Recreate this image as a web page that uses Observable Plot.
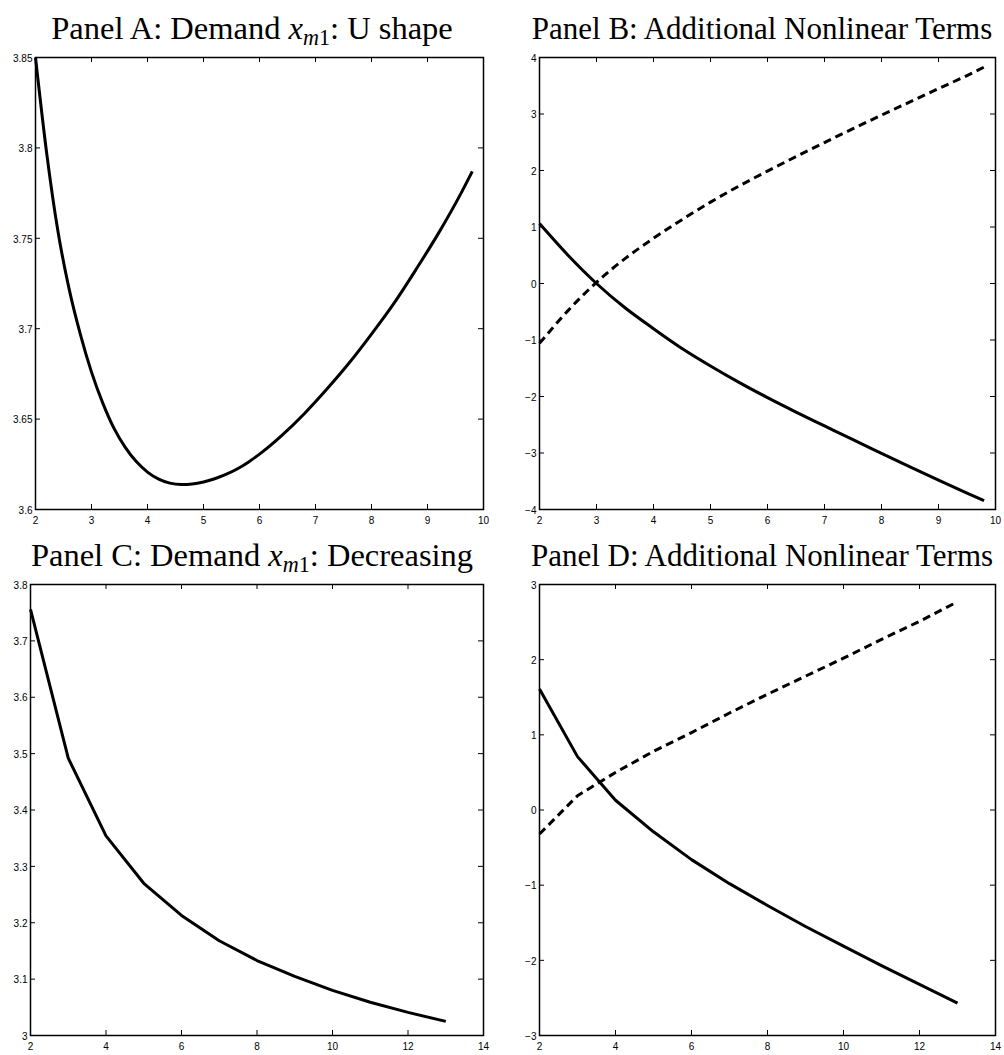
<!DOCTYPE html>
<html>
<head>
<meta charset="utf-8">
<script src="https://cdn.jsdelivr.net/npm/d3@7"></script>
<script src="https://cdn.jsdelivr.net/npm/@observablehq/plot@0.6"></script>
<style>
  html, body { margin: 0; padding: 0; background: #fff; }
  #wrap { position: relative; width: 1004px; height: 1055px; overflow: hidden; }
  .panel { position: absolute; }
  .title { position: absolute; transform: translateX(-50%); white-space: nowrap;
           font-family: "Liberation Serif", "DejaVu Serif", serif; font-size: 32.5px; color: #000; line-height: 1; }
  .title.right { font-size: 31px; }
  .title i { font-style: italic; }
  .title .sub { font-size: 68%; position: relative; top: 0.28em; }
</style>
</head>
<body>
<div id="wrap"></div>
<script>
// ---------- Data ----------
// Panel A: Demand x_m1 (U shape)
const xA = [2.0, 2.2, 2.4, 2.6, 2.8, 3.0, 3.2, 3.4, 3.6, 3.8, 4.0, 4.2, 4.4, 4.6, 4.8, 5.0, 5.2, 5.4, 5.6, 5.8, 6.0, 6.4, 6.8, 7.2, 7.6, 8.0, 8.4, 8.8, 9.2, 9.6, 9.8];
const yA = [3.850, 3.797, 3.754, 3.722, 3.697, 3.676, 3.659, 3.645, 3.6345, 3.6265, 3.6207, 3.6168, 3.6146, 3.6138, 3.6141, 3.6152, 3.6170, 3.6194, 3.6224, 3.6262, 3.6306, 3.641, 3.653, 3.6665, 3.681, 3.697, 3.714, 3.733, 3.753, 3.775, 3.787];

// Panel B: Additional nonlinear terms (solid and dashed)
const xB = [2.0, 2.5, 3.0, 3.5, 4.0, 4.5, 5.0, 5.5, 6.0, 6.5, 7.0, 7.5, 8.0, 8.5, 9.0, 9.5, 9.8];
const yBsolid  = [1.06, 0.50, 0.00, -0.43, -0.80, -1.15, -1.46, -1.75, -2.02, -2.275, -2.52, -2.765, -3.005, -3.245, -3.48, -3.71, -3.845];
const yBdashed = [-1.06, -0.48, 0.02, 0.44, 0.80, 1.13, 1.44, 1.725, 1.99, 2.245, 2.495, 2.74, 2.98, 3.215, 3.45, 3.68, 3.83];

// Panel C: Demand x_m1 (decreasing)
const xC = [2, 3, 4, 5, 6, 7, 8, 9, 10, 11, 12, 13];
const yC = [3.756, 3.492, 3.354, 3.270, 3.213, 3.168, 3.133, 3.105, 3.080, 3.059, 3.041, 3.025];

// Panel D: Additional nonlinear terms (solid and dashed)
const xD = [2, 3, 4, 5, 6, 7, 8, 9, 10, 11, 12, 13];
const yDsolid  = [1.61, 0.71, 0.13, -0.29, -0.66, -0.98, -1.27, -1.55, -1.81, -2.07, -2.32, -2.57];
const yDdashed = [-0.32, 0.19, 0.50, 0.78, 1.03, 1.29, 1.54, 1.78, 2.02, 2.27, 2.51, 2.77];

// Tick values
const xTicksAB = [2, 3, 4, 5, 6, 7, 8, 9, 10];
const xTicksCD = [2, 4, 6, 8, 10, 12, 14];
const yTicksA = [3.6, 3.65, 3.7, 3.75, 3.8, 3.85];
const yTicksB = [-4, -3, -2, -1, 0, 1, 2, 3, 4];
const yTicksC = [3, 3.1, 3.2, 3.3, 3.4, 3.5, 3.6, 3.7, 3.8];
const yTicksD = [-3, -2, -1, 0, 1, 2, 3];

// Titles
const titles = [
  'Panel A: Demand <i>x</i><span class="sub"><i>m</i>1</span>: U shape',
  'Panel B: Additional Nonlinear Terms',
  'Panel C: Demand <i>x</i><span class="sub"><i>m</i>1</span>: Decreasing',
  'Panel D: Additional Nonlinear Terms'
];

// ---------- Drawing ----------
const fmt = d => d < 0 ? "\u2212" + String(-d) : String(d);
const rows = (xs, ys) => xs.map((x, i) => ({x, y: ys[i]}));

function panel({left, top, width, height, ml, mr, mt, mb, xDomain, yDomain, xTicks, yTicks, series}) {
  const pw = width - ml - mr, ph = height - mt - mb;
  const T = 5;
  const marks = [
    Plot.axisX(xTicks, {anchor: "bottom", tickSize: 0, tickPadding: 7, tickFormat: fmt, fontSize: 10, label: null}),
    Plot.axisY(yTicks, {anchor: "left", tickSize: 0, tickPadding: 3, tickFormat: fmt, fontSize: 10, label: null, dy: 1}),
    Plot.tickX(xTicks, {x: d => d, insetTop: ph - T, stroke: "#000", strokeWidth: 1}),
    Plot.tickX(xTicks, {x: d => d, insetBottom: ph - T, stroke: "#000", strokeWidth: 1}),
    Plot.tickY(yTicks, {y: d => d, insetRight: pw - T, stroke: "#000", strokeWidth: 1}),
    Plot.tickY(yTicks, {y: d => d, insetLeft: pw - T, stroke: "#000", strokeWidth: 1}),
    ...series.map(s => Plot.line(s.data, {x: "x", y: "y", stroke: "#000", strokeWidth: 3,
      curve: s.curve, strokeDasharray: s.dash ? "8,5" : null, strokeLinecap: "butt", strokeLinejoin: "round"})),
    Plot.frame({stroke: "#000", strokeWidth: 1.5})
  ];
  const svg = Plot.plot({
    width, height, marginLeft: ml, marginRight: mr, marginTop: mt, marginBottom: mb,
    x: {domain: xDomain, axis: null},
    y: {domain: yDomain, axis: null},
    style: {fontFamily: "'Liberation Sans', Arial, sans-serif", fontSize: "10px", color: "#000", background: "transparent"},
    marks
  });
  const div = document.createElement("div");
  div.className = "panel";
  div.style.left = left + "px";
  div.style.top = top + "px";
  div.appendChild(svg);
  document.getElementById("wrap").appendChild(div);
}

function addTitle(html, cx, topPx, cls) {
  const t = document.createElement("div");
  t.className = "title" + (cls ? " " + cls : "");
  t.innerHTML = html;
  t.style.left = cx + "px";
  t.style.top = topPx + "px";
  document.getElementById("wrap").appendChild(t);
}

panel({left: 0, top: 45, width: 500, height: 490, ml: 35, mr: 17, mt: 12, mb: 26,
  xDomain: [2, 10], yDomain: [3.6, 3.85], xTicks: xTicksAB, yTicks: yTicksA,
  series: [{data: rows(xA, yA), curve: "monotone-x"}]});

panel({left: 500, top: 45, width: 504, height: 490, ml: 39, mr: 9, mt: 12, mb: 26,
  xDomain: [2, 10], yDomain: [-4, 4], xTicks: xTicksAB, yTicks: yTicksB,
  series: [{data: rows(xB, yBsolid), curve: "monotone-x"}, {data: rows(xB, yBdashed), curve: "monotone-x", dash: true}]});

panel({left: 0, top: 573, width: 500, height: 482, ml: 30, mr: 17, mt: 11, mb: 20,
  xDomain: [2, 14], yDomain: [3, 3.8], xTicks: xTicksCD, yTicks: yTicksC,
  series: [{data: rows(xC, yC), curve: "linear"}]});

panel({left: 500, top: 573, width: 504, height: 482, ml: 39, mr: 9, mt: 11, mb: 20,
  xDomain: [2, 14], yDomain: [-3, 3], xTicks: xTicksCD, yTicks: yTicksD,
  series: [{data: rows(xD, yDsolid), curve: "linear"}, {data: rows(xD, yDdashed), curve: "linear", dash: true}]});

addTitle(titles[0], 252, 12);
addTitle(titles[1], 762, 13, "right");
addTitle(titles[2], 252, 539);
addTitle(titles[3], 762, 540, "right");
</script>
</body>
</html>
